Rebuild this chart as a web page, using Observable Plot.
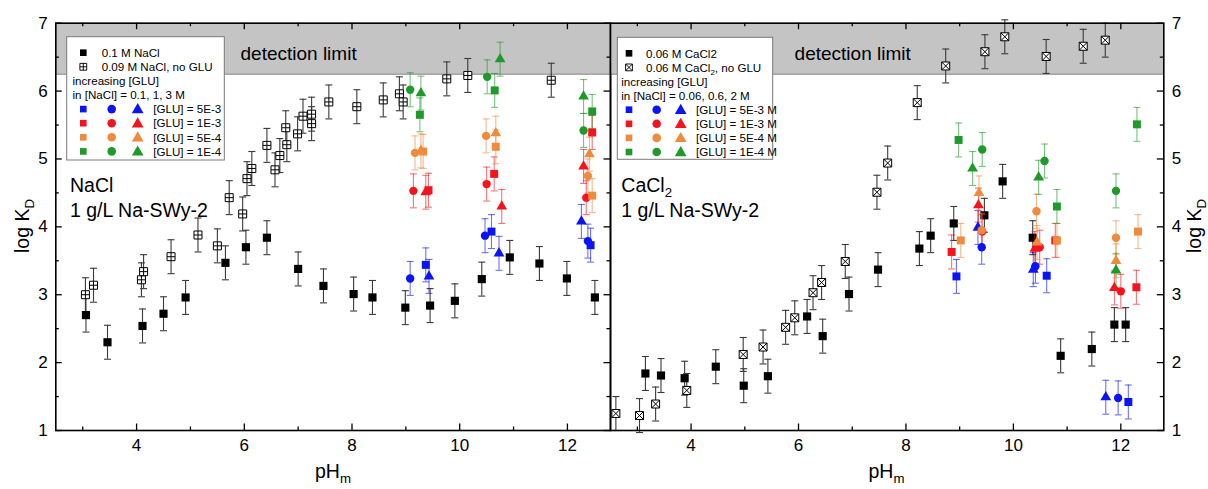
<!DOCTYPE html>
<html>
<head>
<meta charset="utf-8">
<script src="https://cdn.jsdelivr.net/npm/d3@7"></script>
<script src="https://cdn.jsdelivr.net/npm/@observablehq/plot@0.6"></script>
<style>
  body { margin: 0; background: #fff; }
  #chart { position: relative; width: 1208px; height: 489px; overflow: hidden; font-family: "Liberation Sans", Arial, Helvetica, sans-serif; }
  #chart svg { position: absolute; top: 0; }
</style>
</head>
<body>
<div id="chart"></div>
<script>
// ---- axes ----
const phDomain = [2.5, 12.8];
const logKDomain = [1, 7];
const phMajorTicks = [4, 6, 8, 10, 12];
const phMinorTicks = [3, 5, 7, 9, 11];
const logKMajorTicks = [1, 2, 3, 4, 5, 6, 7];
const logKMinorTicks = [1.5, 2.5, 3.5, 4.5, 5.5, 6.5];
const detectionLimit = 6.25;
const logKError = 0.25;

// ---- NaCl panel: [pH_m, log K_D] ----
const naclBase = [[3.06,2.70],[3.46,2.30],[4.11,2.54],[4.50,2.72],[4.91,2.96],[5.65,3.47],[6.03,3.70],[6.42,3.84],
  [7.00,3.38],[7.47,3.13],[8.03,3.01],[8.38,2.96],[8.99,2.81],[9.45,2.84],[9.91,2.91],[10.41,3.23],[10.93,3.55],
  [11.48,3.46],[11.99,3.24],[12.51,2.96]];
const naclNoGlu = [[3.05,3.00],[3.20,3.14],[4.09,3.22],[4.13,3.34],[4.64,3.56],[5.14,3.88],[5.50,3.72],[5.72,4.43],
  [5.97,4.19],[6.05,4.71],[6.14,4.86],[6.42,5.20],[6.57,4.84],[6.66,5.05],[6.77,5.46],[6.79,5.21],[6.99,5.37],
  [7.09,5.63],[7.25,5.66],[7.25,5.52],[7.57,5.84],[8.09,5.77],[8.58,5.87],[8.88,5.96],[8.95,5.84],[9.76,6.18],
  [10.15,6.23],[11.70,6.16]];
// [pH_m, log K_D, NaCl level: 0 = 0.1 M, 1 = 1 M, 2 = 3 M]
const naclGlu5e3 = [[9.37,3.44,0],[9.08,3.24,1],[9.43,3.27,2],[10.59,3.93,0],[10.47,3.87,1],[10.73,3.61,2],[12.43,3.73,0],[12.38,3.79,1],[12.26,4.08,2]];
const naclGlu1e3 = [[9.42,4.54,0],[9.14,4.53,1],[9.37,4.51,2],[10.64,4.78,0],[10.50,4.63,1],[10.78,4.30,2],[12.46,5.39,0],[12.35,4.43,1],[12.30,4.89,2]];
const naclGlu5e4 = [[9.32,5.11,0],[9.17,5.09,1],[9.28,5.12,2],[10.67,5.18,0],[10.49,5.34,1],[10.67,5.38,2],[12.46,4.46,0],[12.38,4.75,1],[12.41,5.07,2]];
const naclGlu1e4 = [[9.26,5.65,0],[9.08,6.02,1],[9.28,5.97,2],[10.65,6.01,0],[10.51,6.21,1],[10.75,6.47,2],[12.46,5.70,0],[12.30,5.42,1],[12.30,5.92,2]];

// ---- CaCl2 panel ----
const caclBase = [[3.15,1.84],[3.44,1.81],[3.88,1.77],[4.46,1.94],[4.98,1.66],[5.43,1.80],[6.16,2.68],[6.45,2.39],
  [6.94,3.01],[7.48,3.37],[8.25,3.68],[8.46,3.87],[8.89,4.05],[9.46,4.17],[9.80,4.67],[10.36,3.84],[10.88,2.10],
  [11.46,2.20],[11.88,2.56],[12.09,2.56]];
const caclNoGlu = [[2.60,1.25],[3.04,1.22],[3.34,1.39],[3.92,1.59],[4.97,2.12],[5.34,2.23],[5.76,2.52],[5.93,2.66],
  [6.27,3.03],[6.43,3.18],[6.87,3.49],[7.46,4.51],[7.66,4.94],[8.21,5.83],[8.74,6.37],[9.47,6.58],[9.84,6.80],
  [10.61,6.51],[11.30,6.66],[11.71,6.75]];
// [pH_m, log K_D, NaCl level: 0 = 0.06 M, 1 = 0.6 M, 2 = 2 M]
const caclGlu5e3 = [[8.94,3.27,0],[9.41,3.70,1],[9.34,3.99,2],[10.62,3.28,0],[10.41,3.42,1],[10.37,3.37,2],[12.14,1.42,0],[11.95,1.48,1],[11.72,1.49,2]];
const caclGlu1e3 = [[8.85,3.63,0],[9.42,3.93,1],[9.35,4.32,2],[10.78,3.80,0],[10.49,3.70,1],[10.40,3.68,2],[12.29,3.11,0],[12.00,3.05,1],[11.88,3.10,2]];
const caclGlu5e4 = [[9.02,3.80,0],[9.41,3.95,1],[9.36,4.50,2],[10.81,3.80,0],[10.43,4.23,1],[10.44,3.77,2],[12.32,3.93,0],[11.91,3.84,1],[11.91,3.50,2]];
const caclGlu1e4 = [[8.98,5.28,0],[9.42,5.14,1],[9.24,4.86,2],[10.81,4.30,0],[10.58,4.97,1],[10.47,4.73,2],[12.30,5.51,0],[11.91,4.53,1],[11.91,3.36,2]];

// ---- legend text ----
const gluColors = ["#0a14f5", "#f5141e", "#f08a3c", "#1f9a2a"];
const naclGluLabels = ["[GLU] = 5E-3", "[GLU] = 1E-3", "[GLU] = 5E-4", "[GLU] = 1E-4"];
const caclGluLabels = ["[GLU] = 5E-3 M", "[GLU] = 1E-3 M", "[GLU] = 5E-4 M", "[GLU] = 1E-4 M"];

// ---- drawing ----
const FONT = '"Liberation Sans", Arial, Helvetica, sans-serif';
const HEIGHT = 489, MT = 22.7, MB = 59;
const INNER_H = HEIGHT - MT - MB;
const shapes = ["square", "circle", "triangle"];
const shapeR = [4.5, 4.2, 4.0];

const capSymbol = {draw(ctx) { ctx.moveTo(-3.5, 0); ctx.lineTo(3.5, 0); }};
const squarePlus = {draw(ctx) {
  const h = 4;
  ctx.moveTo(-h, -h); ctx.lineTo(h, -h); ctx.lineTo(h, h); ctx.lineTo(-h, h); ctx.closePath();
  ctx.moveTo(-h, 0); ctx.lineTo(h, 0); ctx.moveTo(0, -h); ctx.lineTo(0, h);
}};
const squareTimes = {draw(ctx) {
  const h = 4;
  ctx.moveTo(-h, -h); ctx.lineTo(h, -h); ctx.lineTo(h, h); ctx.lineTo(-h, h); ctx.closePath();
  ctx.moveTo(-h, -h); ctx.lineTo(h, h); ctx.moveTo(h, -h); ctx.lineTo(-h, h);
}};

function errorBars(rows, stroke, opacity) {
  const common = {x: d => d[0], stroke, strokeOpacity: opacity, strokeWidth: 1.1};
  return [
    Plot.ruleX(rows, {...common, y1: d => d[1] - logKError, y2: d => d[1] + logKError}),
    Plot.dot(rows, {...common, y: d => d[1] - logKError, symbol: capSymbol, fill: "none"}),
    Plot.dot(rows, {...common, y: d => d[1] + logKError, symbol: capSymbol, fill: "none"})
  ];
}

function gluMarks(series) {
  const marks = [];
  series.forEach((rows, i) => marks.push(...errorBars(rows, gluColors[i], 0.6)));
  series.forEach((rows, i) => {
    shapes.forEach((s, k) => {
      marks.push(Plot.dot(rows.filter(d => d[2] === k), {x: d => d[0], y: d => d[1], symbol: s, r: shapeR[k], fill: gluColors[i]}));
    });
  });
  return marks;
}

function panel({width, marginLeft, marginRight, base, noGlu, noGluSymbol, glu, leftTicks, rightTicks, leftLabels, rightLabels}) {
  const innerW = width - marginLeft - marginRight;
  const maj = 6.5, min = 3.5;
  const tick = {stroke: "#000", strokeWidth: 1.3};
  const marks = [
    Plot.rect([detectionLimit], {x1: phDomain[0], x2: phDomain[1], y1: d => d, y2: logKDomain[1], fill: "#c4c4c4"}),
    Plot.ruleY([detectionLimit], {stroke: "#707070", strokeWidth: 1}),
    Plot.tickX(phMajorTicks, {x: d => d, insetTop: INNER_H - maj, ...tick}),
    Plot.tickX(phMinorTicks, {x: d => d, insetTop: INNER_H - min, ...tick}),
    Plot.tickX(phMajorTicks, {x: d => d, insetBottom: INNER_H - maj, ...tick}),
    Plot.tickX(phMinorTicks, {x: d => d, insetBottom: INNER_H - min, ...tick}),
    Plot.text(phMajorTicks, {x: d => d, frameAnchor: "bottom", dy: 15, text: d => String(d), fontSize: 17, lineAnchor: "middle"})
  ];
  if (leftTicks) marks.push(
    Plot.tickY(logKMajorTicks, {y: d => d, insetRight: innerW - maj, ...tick}),
    Plot.tickY(logKMinorTicks, {y: d => d, insetRight: innerW - min, ...tick}));
  if (rightTicks) marks.push(
    Plot.tickY(logKMajorTicks, {y: d => d, insetLeft: innerW - maj, ...tick}),
    Plot.tickY(logKMinorTicks, {y: d => d, insetLeft: innerW - min, ...tick}));
  if (leftLabels) marks.push(Plot.text(logKMajorTicks, {y: d => d, frameAnchor: "left", dx: -8, textAnchor: "end", text: d => String(d), fontSize: 17, lineAnchor: "middle"}));
  if (rightLabels) marks.push(Plot.text(logKMajorTicks, {y: d => d, frameAnchor: "right", dx: 8, textAnchor: "start", text: d => String(d), fontSize: 17, lineAnchor: "middle"}));
  marks.push(
    ...errorBars(base, "#3a3a3a", 1),
    ...errorBars(noGlu, "#3a3a3a", 1),
    Plot.dot(noGlu, {x: d => d[0], y: d => d[1], symbol: noGluSymbol, fill: "#fff", stroke: "#000", strokeWidth: 1}),
    Plot.dot(base, {x: d => d[0], y: d => d[1], symbol: "square", r: 4.6, fill: "#000"}),
    ...gluMarks(glu),
    Plot.frame({stroke: "#000", strokeWidth: 1.6})
  );
  return Plot.plot({
    width, height: HEIGHT, marginTop: MT, marginBottom: MB, marginLeft, marginRight,
    x: {domain: phDomain, axis: null},
    y: {domain: logKDomain, axis: null},
    style: {background: "transparent", overflow: "visible", fontFamily: FONT, color: "#000"},
    marks
  });
}

const chart = document.getElementById("chart");

const left = panel({width: 612, marginLeft: 55.3, marginRight: 2, base: naclBase, noGlu: naclNoGlu, noGluSymbol: squarePlus,
  glu: [naclGlu5e3, naclGlu1e3, naclGlu5e4, naclGlu1e4], leftTicks: true, rightTicks: true, leftLabels: true, rightLabels: false});
left.style.left = "0px";
chart.appendChild(left);

const right = panel({width: 600, marginLeft: 2, marginRight: 44.7, base: caclBase, noGlu: caclNoGlu, noGluSymbol: squareTimes,
  glu: [caclGlu5e3, caclGlu1e3, caclGlu5e4, caclGlu1e4], leftTicks: false, rightTicks: true, leftLabels: false, rightLabels: true});
right.style.left = "608px";
chart.appendChild(right);

// ---- annotations, axis titles and legends ----
const overlay = d3.create("svg").attr("width", 1208).attr("height", HEIGHT)
  .style("left", "0px").style("pointer-events", "none")
  .attr("font-family", FONT).attr("fill", "#000");

function label(x, y, parts, {size = 12, anchor = "start", rotate = 0} = {}) {
  const t = overlay.append("text")
    .attr("transform", `translate(${x},${y}) rotate(${rotate})`)
    .attr("font-size", size).attr("text-anchor", anchor);
  const shift = size * 0.25;
  let sub = false;
  for (const p of parts) {
    const isSub = typeof p === "object";
    const span = t.append("tspan").text(isSub ? p.sub : p);
    if (isSub) span.attr("font-size", size * 0.68);
    if (isSub !== sub) span.attr("dy", isSub ? shift : -shift);
    sub = isSub;
  }
  return t;
}

// axis titles
label(333, 478, ["pH", {sub: "m"}], {size: 19.5, anchor: "middle"});
label(886.5, 478, ["pH", {sub: "m"}], {size: 19.5, anchor: "middle"});
label(29, 226, ["log K", {sub: "D"}], {size: 19.5, anchor: "middle", rotate: -90});
label(1201, 226, ["log K", {sub: "D"}], {size: 19.5, anchor: "middle", rotate: -90});

// band and panel annotations
label(240.5, 60, ["detection limit"], {size: 19});
label(794.6, 60, ["detection limit"], {size: 19});
label(70, 192, ["NaCl"], {size: 19.5});
label(70, 216.5, ["1 g/L Na-SWy-2"], {size: 19.5});
label(621.3, 192, ["CaCl", {sub: "2"}], {size: 19.5});
label(621.3, 216.5, ["1 g/L Na-SWy-2"], {size: 19.5});

function legend({x, y, w, h, mx, textX, introX, cols, textCol, rows, gluLabels}) {
  overlay.append("rect").attr("x", x).attr("y", y).attr("width", w).attr("height", h)
    .attr("fill", "#fff").attr("stroke", "#7a7a7a").attr("stroke-width", 1);
  const rowY = i => y + 16 + i * 14.1;
  const fs = 11.6;
  // reference series
  overlay.append("path").attr("transform", `translate(${mx},${rowY(0)})`)
    .attr("d", d3.symbol(d3.symbolSquare, 44)()).attr("fill", "#000");
  overlay.append("path").attr("transform", `translate(${mx},${rowY(1)}) scale(0.85)`)
    .attr("d", () => { const p = d3.path(); rows.symbol.draw(p); return p.toString(); })
    .attr("fill", "#fff").attr("stroke", "#000").attr("stroke-width", 1.1);
  label(textX, rowY(0) + 4.2, rows.first, {size: fs});
  label(textX, rowY(1) + 4.2, rows.second, {size: fs});
  label(introX, rowY(2) + 4.2, ["increasing [GLU]"], {size: fs});
  label(introX, rowY(3) + 4.2, [rows.salt], {size: fs});
  const symSizes = [44, 58, 60];
  gluLabels.forEach((lab, i) => {
    const yy = rowY(4 + i);
    [d3.symbolSquare, d3.symbolCircle, d3.symbolTriangle].forEach((s, k) => {
      overlay.append("path").attr("transform", `translate(${cols[k]},${yy + (k === 2 ? 0.8 : 0)})`)
        .attr("d", d3.symbol(s, symSizes[k])()).attr("fill", gluColors[i]);
    });
    label(textCol, yy + 4.2, [lab], {size: fs});
  });
}

legend({x: 66.7, y: 36.7, w: 157.6, h: 123.3, mx: 83.3, textX: 101.7, introX: 72.5,
  cols: [83.3, 111.7, 137.7], textCol: 153.3,
  rows: {first: ["0.1 M NaCl"], second: ["0.09 M NaCl, no GLU"], symbol: squarePlus, salt: "in [NaCl] = 0.1, 1, 3 M"},
  gluLabels: naclGluLabels});
legend({x: 617.3, y: 37.3, w: 155.4, h: 122, mx: 629, textX: 646, introX: 621.2,
  cols: [629, 656.7, 680.7], textCol: 696,
  rows: {first: ["0.06 M CaCl2"], second: ["0.06 M CaCl", {sub: "2"}, ", no GLU"], symbol: squareTimes, salt: "in [NaCl] = 0.06, 0.6, 2 M"},
  gluLabels: caclGluLabels});

chart.appendChild(overlay.node());
</script>
</body>
</html>
